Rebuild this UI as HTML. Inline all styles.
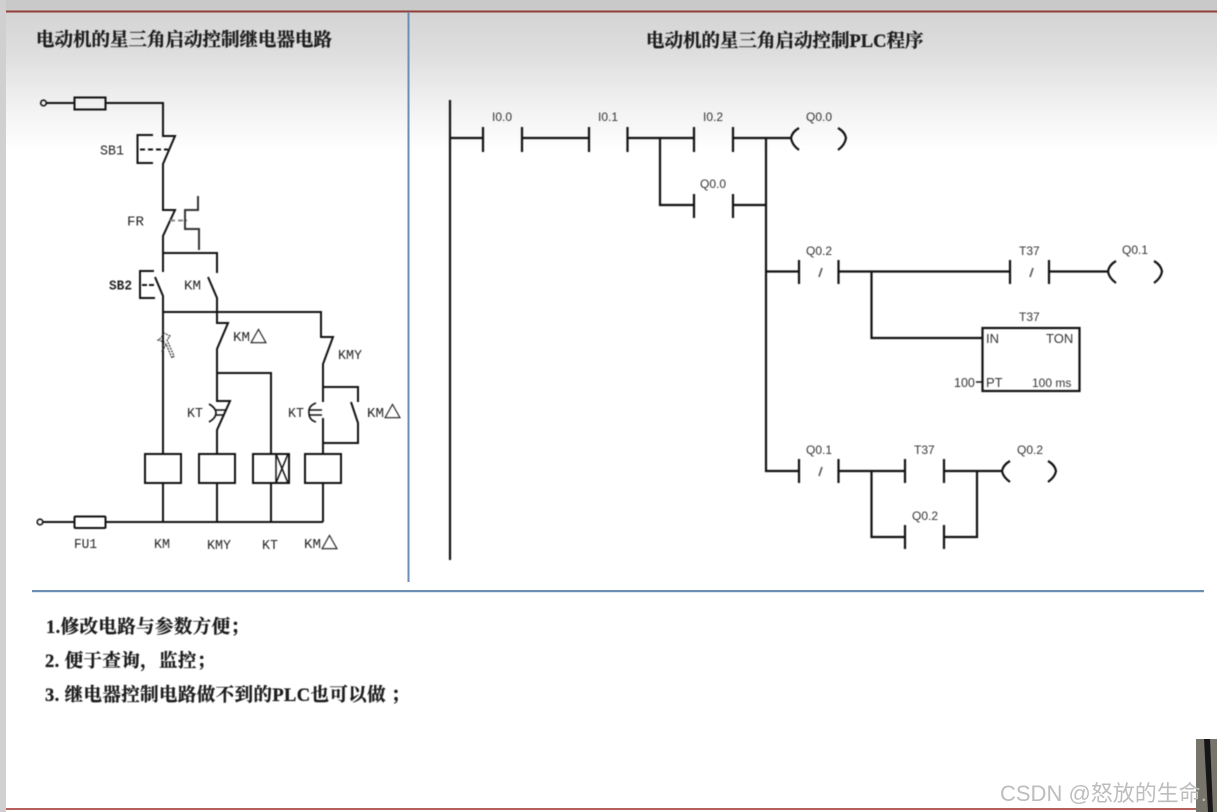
<!DOCTYPE html>
<html lang="zh">
<head>
<meta charset="utf-8">
<title>电动机的星三角启动控制</title>
<style>
html,body{margin:0;padding:0;width:1217px;height:812px;overflow:hidden;background:#fff}
svg{display:block}
.t{font-family:"Liberation Serif","Noto Serif CJK SC",serif;font-weight:700;font-size:18.5px;fill:#1c1c1c;stroke:#1c1c1c;stroke-width:.3}
.p{letter-spacing:.38px}
.m{font-family:"Liberation Mono",monospace;font-size:14px;fill:#222}
.tri{font-family:"Noto Sans CJK SC",sans-serif;font-size:17px;fill:#222;stroke:#222;stroke-width:.5}
.l{font-family:"Liberation Sans",sans-serif;font-size:12px;fill:#333}
.w{fill:none;stroke:#111;stroke-width:2}
.b{fill:none;stroke:#111;stroke-width:2.2}
.s{filter:blur(.45px)}
</style>
</head>
<body>
<svg width="1217" height="812" viewBox="0 0 1217 812" xmlns="http://www.w3.org/2000/svg">
<defs>
<linearGradient id="g" x1="0" y1="0" x2="0" y2="1">
<stop offset="0" stop-color="#d4d4d4"/>
<stop offset="0.3" stop-color="#dedede"/>
<stop offset="0.62" stop-color="#efefef"/>
<stop offset="1" stop-color="#ffffff"/>
</linearGradient>
</defs>
<rect width="1217" height="812" fill="#fff"/>
<rect x="0" y="0" width="1217" height="11" fill="#c9c9c9"/>
<rect x="6" y="12" width="1211" height="140" fill="url(#g)"/>
<rect x="0" y="0" width="6" height="812" fill="#d0d0d0"/>
<rect x="6" y="10.5" width="1211" height="2" fill="#93403c"/>
<rect x="6" y="808" width="1190" height="2" fill="#b5605c"/>
<rect x="407.5" y="12" width="2" height="570" fill="#6c8db5"/>
<rect x="32" y="590" width="1172" height="2.2" fill="#6c8db5"/>

<path d="M1196 739H1217V812H1196Z" fill="#77746c"/>
<path d="M1204 739L1210 739L1213 812L1208 812Z" fill="#161616"/>

<g class="s">
<text class="t" x="36" y="46">电动机的星三角启动控制继电器电路</text>
<text class="t" x="646" y="47">电动机的星三角启动控制PLC程序</text>
<text class="t p" x="46" y="633">1.修改电路与参数方便；</text>
<text class="t p" x="45" y="667">2. 便于查询，监控；</text>
<text class="t p" x="45" y="701">3. 继电器控制电路做不到的PLC也可以做 ；</text>

<!-- relay circuit -->
<g class="w">
<circle cx="43.5" cy="103" r="2.8" stroke-width="1.6"/>
<path d="M46 103H74M105 103H163V136H175L163 164V210H175L163 236V272M163 253H217V273"/>
<rect x="74.5" y="97.5" width="31" height="12"/>
<path d="M153 135H137.5V163H153"/>
<path d="M140 149.5H168" stroke-dasharray="5 3"/>
<path d="M198 196V210H185V229H199V250" stroke="#333"/>
<path d="M170 220.5H187" stroke-dasharray="5 3" stroke="#888"/>
<path d="M154 271H140V298H155"/>
<path d="M142 285H155" stroke-dasharray="5 2"/>
<path d="M155 277L163 296V454M208 277L217 298V312"/>
<path d="M163 312H321V337H333L323 364V402M323 418V454M323 387H358V402M351 402L358 423V443H323"/>
<path d="M217 312V323H228L217 349V401H230L217 430V454M217 373H271V454"/>
<path d="M209 404Q216 408 216 413Q216 418 209 422M216 410H226M216 415H224" stroke-width="1.6"/>
<path d="M316 403Q308 406 309 413Q309 420 316 422M309 410H322M309 415H322" stroke-width="1.6"/>
<rect x="145" y="454" width="36" height="29"/>
<rect x="199" y="454" width="36" height="29"/>
<rect x="253" y="454" width="36" height="29"/>
<rect x="305" y="454" width="36" height="29"/>
<path d="M276 454V483M276 454L288 483M288 454L276 483" stroke-width="1.5"/>
<path d="M163 483V522M217 483V522M271 483V522M323 483V522"/>
<circle cx="40" cy="522" r="2.8" stroke-width="1.6"/>
<path d="M43 522H74M105 522H323"/>
<rect x="74.5" y="516.5" width="31" height="11.5" rx="1"/>
</g>
<path d="M164 333L161 338L158 340L164 342L162 352L166 344L172 358L174 356L167 340L170 336Z" fill="none" stroke="#333" stroke-width="1.2" stroke-dasharray="2 1"/>

<g class="m">
<text x="100" y="154.500" textLength="24" lengthAdjust="spacingAndGlyphs">SB1</text>
<text x="127" y="225.500" textLength="17" lengthAdjust="spacingAndGlyphs">FR</text>
<text x="109" y="289.500" textLength="23" lengthAdjust="spacingAndGlyphs" font-weight="700">SB2</text>
<text x="184" y="289.500" textLength="17" lengthAdjust="spacingAndGlyphs">KM</text>
<text x="233" y="341" textLength="17" lengthAdjust="spacingAndGlyphs">KM</text>
<text x="338" y="359" textLength="24" lengthAdjust="spacingAndGlyphs">KMY</text>
<text x="187" y="417" textLength="16" lengthAdjust="spacingAndGlyphs">KT</text>
<text x="288" y="417" textLength="16" lengthAdjust="spacingAndGlyphs">KT</text>
<text x="367" y="417" textLength="17" lengthAdjust="spacingAndGlyphs">KM</text>
<text x="74" y="548" textLength="23" lengthAdjust="spacingAndGlyphs">FU1</text>
<text x="154" y="548" textLength="16" lengthAdjust="spacingAndGlyphs">KM</text>
<text x="207" y="549" textLength="24" lengthAdjust="spacingAndGlyphs">KMY</text>
<text x="262" y="549" textLength="16" lengthAdjust="spacingAndGlyphs">KT</text>
<text x="304" y="548" textLength="17" lengthAdjust="spacingAndGlyphs">KM</text>
</g>
<g class="tri">
<text x="250" y="343">△</text>
<text x="384" y="418">△</text>
<text x="321" y="549">△</text>
</g>

<!-- ladder -->
<g class="b">
<path d="M450 100V560"/>
<path d="M450 138H483M522 138H589M627.5 138H694M733 138H791M660 138V205H694M733 205H766M766 138V471H799"/>
<path d="M483 127V152M522 127V152M589 127V152M627.5 127V152M694 127V152M733 127V152"/>
<path d="M694 194V218M733 194V218"/>
<path d="M799 128Q792 132 791 138Q792 145 799 150M838 128Q845 132 846 138Q845 145 838 150"/>
<path d="M766 271.5H799M838.5 271.5H1010M1049 271.5H1108M871.5 271.5V338H982"/>
<path d="M799 260V284M838.5 260V284M1010 260V284M1049 260V284"/>
<path d="M1116 261Q1109 265 1108 271.500Q1109 278 1116 283M1154 261Q1161 265 1162 271.500Q1161 278 1154 283"/>
<rect x="982.5" y="328" width="97" height="63"/>
<path d="M976 382H982" stroke-width="1.5"/>
<path d="M838.5 471H905M944 471H1002M871.5 471V537H905M944 537H977V471"/>
<path d="M799 459V483M838.5 459V483M905 459V483M944 459V483M905 525V549M944 525V549"/>
<path d="M1010 461Q1003 465 1002 471Q1003 477 1010 482M1048 461Q1055 465 1056 471Q1055 477 1048 482"/>
</g>
<g stroke="#555" stroke-width="1.6">
<path d="M822 268L819 277M1033 268L1030 277M822 467L819 476"/>
</g>
<g class="l">
<text x="492" y="121">I0.0</text>
<text x="598" y="121">I0.1</text>
<text x="703" y="121">I0.2</text>
<text x="806" y="121">Q0.0</text>
<text x="700" y="188">Q0.0</text>
<text x="806" y="255">Q0.2</text>
<text x="1019" y="255">T37</text>
<text x="1122" y="254">Q0.1</text>
<text x="1019" y="321">T37</text>
<text x="986" y="343" font-size="13">IN</text>
<text x="1046" y="343" font-size="13">TON</text>
<text x="954" y="387" font-size="12.5">100</text>
<text x="986" y="387" font-size="13">PT</text>
<text x="1032" y="387">100 ms</text>
<text x="806" y="454">Q0.1</text>
<text x="914" y="454">T37</text>
<text x="1017" y="454">Q0.2</text>
<text x="912" y="520">Q0.2</text>
</g>
</g>

<text x="1000" y="801" font-family="'Liberation Sans','Noto Sans CJK SC',sans-serif" font-size="22" fill="#bdbdbd">CSDN @怒放的生命.</text>
</svg>
</body>
</html>
